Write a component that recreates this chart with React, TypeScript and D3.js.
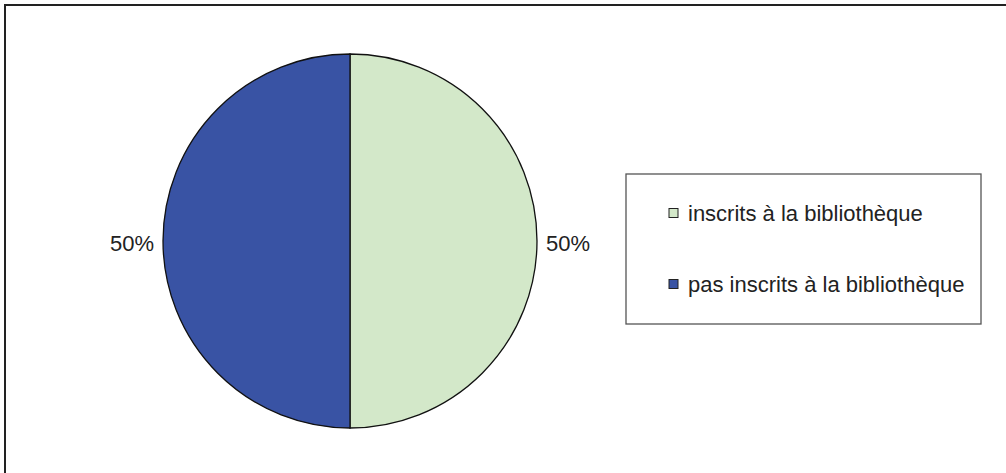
import { useEffect, useRef } from "react";
import * as d3 from "d3";

const categories = ["inscrits à la bibliothèque", "pas inscrits à la bibliothèque"];
const values = [50, 50];
const sliceColors = ["#d3e8c9", "#3953a4"];

const W = 1006;
const H = 473;

export default function App() {
  const svgRef = useRef<SVGSVGElement>(null);

  useEffect(() => {
    if (!svgRef.current) return;
    const svg = d3.select(svgRef.current);
    svg.selectAll("*").remove();

    // outer frame (right/bottom fall outside the picture)
    svg
      .append("rect")
      .attr("x", 5)
      .attr("y", 5)
      .attr("width", W + 20)
      .attr("height", H + 20)
      .attr("fill", "none")
      .attr("stroke", "#222")
      .attr("stroke-width", 2);

    const cx = 350;
    const cy = 241;
    const r = 187;

    const pie = d3
      .pie<number>()
      .sort(null)
      .value((d) => d)
      .startAngle(0)
      .endAngle(2 * Math.PI);
    const arcs = pie(values);
    const arc = d3.arc<d3.PieArcDatum<number>>().innerRadius(0).outerRadius(r);

    const g = svg.append("g").attr("transform", `translate(${cx},${cy})`);
    g.selectAll("path")
      .data(arcs)
      .enter()
      .append("path")
      .attr("d", arc)
      .attr("fill", (_d, i) => sliceColors[i])
      .attr("stroke", "#111")
      .attr("stroke-width", 1.3);

    // percentage labels outside
    const total = d3.sum(values);
    g.selectAll("text.pct")
      .data(arcs)
      .enter()
      .append("text")
      .attr("class", "pct")
      .attr("x", (d) => {
        const a = (d.startAngle + d.endAngle) / 2;
        return Math.sin(a) * (r + 9);
      })
      .attr("y", (d) => {
        const a = (d.startAngle + d.endAngle) / 2;
        return -Math.cos(a) * (r + 9) + 10;
      })
      .attr("text-anchor", (d) => ((d.startAngle + d.endAngle) / 2 < Math.PI ? "start" : "end"))
      .style("font-family", "'Liberation Sans', Arial, sans-serif")
      .style("font-size", "22px")
      .attr("fill", "#222")
      .text((d) => `${Math.round((d.value / total) * 100)}%`);

    // legend
    const lx = 626;
    const ly = 174;
    const legend = svg.append("g");
    legend
      .append("rect")
      .attr("x", lx)
      .attr("y", ly)
      .attr("width", 355)
      .attr("height", 150)
      .attr("fill", "#fff")
      .attr("stroke", "#555")
      .attr("stroke-width", 1.3);

    const item = legend
      .selectAll("g.item")
      .data(categories)
      .enter()
      .append("g")
      .attr("class", "item")
      .attr("transform", (_d, i) => `translate(${lx + 43},${ly + 39 + i * 71})`);

    item
      .append("rect")
      .attr("x", 0)
      .attr("y", -4.5)
      .attr("width", 9)
      .attr("height", 9)
      .attr("fill", (_d, i) => sliceColors[i])
      .attr("stroke", "#222")
      .attr("stroke-width", 1);

    item
      .append("text")
      .attr("x", 19)
      .attr("y", 8)
      .style("font-family", "'Liberation Sans', Arial, sans-serif")
      .style("font-size", "22px")
      .attr("fill", "#222")
      .text((d) => d);
  }, []);

  return (
    <svg
      ref={svgRef}
      width={W}
      height={H}
      style={{ position: "absolute", left: 0, top: 0, background: "#fff" }}
    />
  );
}
